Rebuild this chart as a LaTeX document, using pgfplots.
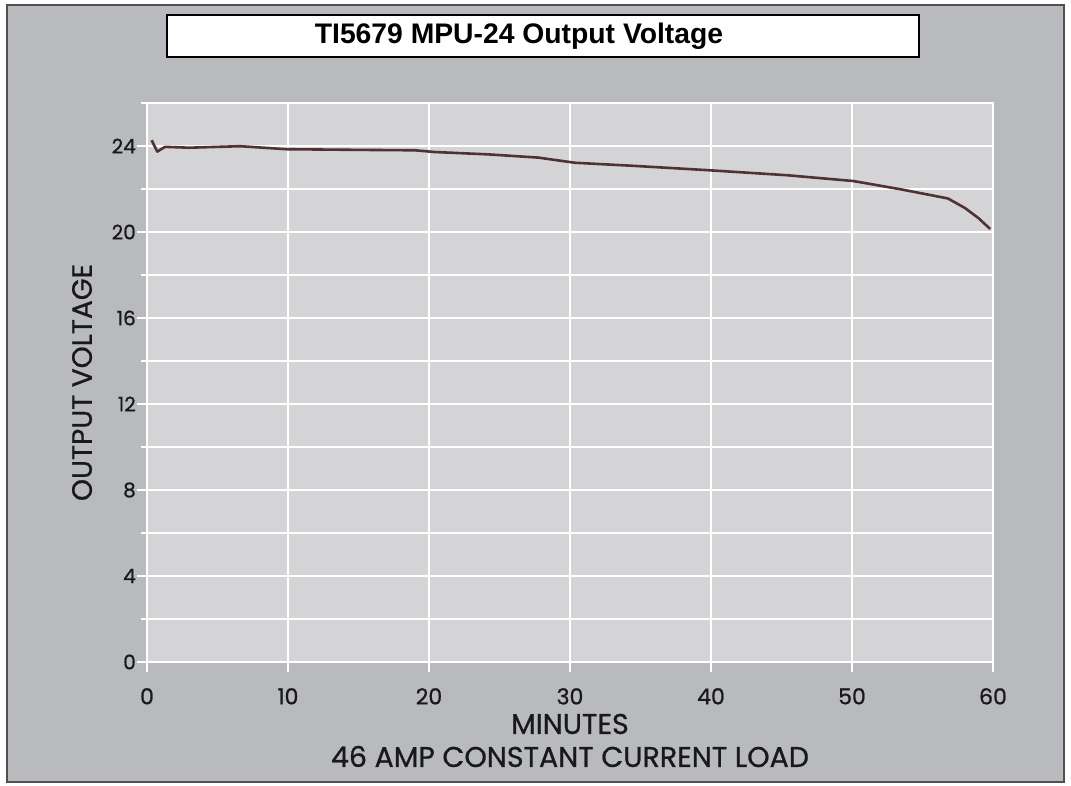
\documentclass[border=0pt]{standalone}
\usepackage{pgfplots}
\pgfplotsset{compat=1.18}
\usepackage{fontspec}
\setmainfont{Poppins}[FakeBold=0.8]
\newfontfamily\titlefont{Liberation Sans}
\definecolor{panel}{RGB}{184,186,190}
\definecolor{plotbg}{RGB}{212,212,214}
\definecolor{framec}{RGB}{80,80,80}
\definecolor{curve}{RGB}{80,50,50}
\definecolor{lbl}{RGB}{25,25,25}
\begin{document}
\begin{tikzpicture}
\path[use as bounding box] (0pt,0pt) rectangle (1071pt,786pt);
\fill[white] (0pt,0pt) rectangle (1071pt,786pt);
\filldraw[fill=panel, draw=framec, line width=2pt] (7pt,4pt) rectangle (1064pt,781pt);
\filldraw[fill=white, draw=black, line width=2pt] (167pt,729pt) rectangle (919pt,771pt);
\node[font=\titlefont\bfseries\fontsize{28.3}{31}\selectfont] at (519pt,750pt) {TI5679 MPU-24 Output Voltage};
\begin{axis}[
  at={(147pt,124pt)}, anchor=south west,
  scale only axis, width=846pt, height=559pt,
  xmin=0, xmax=60, ymin=0, ymax=26,
  axis background/.style={fill=plotbg},
  axis line style={white, line width=2pt},
  xtick={0,10,...,60}, ytick={0,4,...,24}, minor ytick={2,6,...,26},
  grid=both,
  major grid style={white, line width=2pt},
  minor grid style={white, line width=2pt},
  tick align=outside, major tick length=10pt, minor tick length=6pt,
  tick style={white, line width=2pt},
  xtick pos=left, ytick pos=left,
  /pgf/number format/assume math mode=true,
  yticklabel style={font=\fontsize{20}{22}\selectfont, inner sep=0pt, text=lbl, xshift=-1pt},
  xticklabel style={font=\fontsize{22}{24}\selectfont, inner sep=0pt, text=lbl, yshift=-16pt},
  every axis x label/.style={at={(axis description cs:0.5,-0.1404)}, anchor=center, align=center, font=\fontsize{28.5}{33}\selectfont, text=lbl},
  every axis y label/.style={at={(axis description cs:-0.0768,0.5)}, anchor=center, rotate=90, font=\fontsize{28}{30}\selectfont, text=lbl},
  xlabel={MINUTES\\46 AMP CONSTANT CURRENT LOAD},
  ylabel={OUTPUT VOLTAGE},
]
\addplot[curve, line width=2.6pt, line join=round] coordinates {
(0.33,24.27) (0.73,23.74) (1.28,23.96) (3.0,23.92) (6.6,23.99) (9.9,23.85)
(14.9,23.82) (19.0,23.80) (20.4,23.72) (24.2,23.61) (27.75,23.46) (30.35,23.22)
(34.7,23.07) (39.9,22.87) (45.4,22.64) (50.1,22.37) (53.5,21.98) (56.8,21.56)
(58.0,21.12) (58.96,20.65) (59.8,20.14)
};
\end{axis}
\end{tikzpicture}
\end{document}
